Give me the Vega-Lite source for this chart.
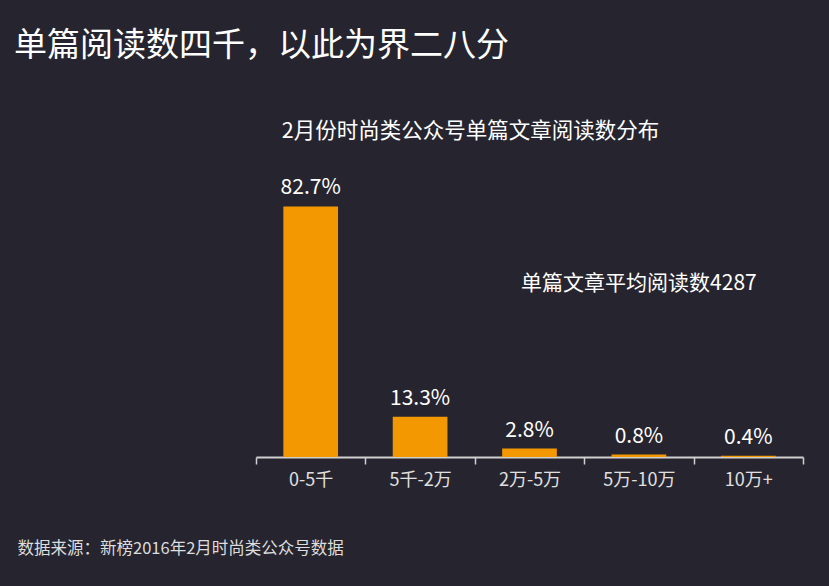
{
  "$schema": "https://vega.github.io/schema/vega-lite/v6.json",
  "autosize": {"type": "fit", "contains": "padding"},
  "width": 829,
  "height": 586,
  "padding": {"left": 14, "right": 25, "top": 30, "bottom": 29},
  "background": "#26252f",
  "title": {
    "text": "单篇阅读数四千，以此为界二八分",
    "anchor": "start",
    "frame": "bounds",
    "fontSize": 33,
    "fontWeight": "normal",
    "color": "#ffffff",
    "font": "Noto Sans CJK SC",
    "offset": 57,
    "dx": -3
  },
  "data": {
    "values": [
      {"range": "0-5千", "share": 0.827},
      {"range": "5千-2万", "share": 0.133},
      {"range": "2万-5万", "share": 0.028},
      {"range": "5万-10万", "share": 0.008},
      {"range": "10万+", "share": 0.004}
    ]
  },
  "encoding": {
    "x": {
      "field": "range",
      "type": "nominal",
      "sort": null,
      "scale": {"paddingInner": 0, "paddingOuter": 0},
      "axis": {
        "title": "数据来源：新榜2016年2月时尚类公众号数据",
        "titleX": -239,
        "titleY": 91,
        "titleAlign": "left",
        "titleAnchor": "start",
        "titleBaseline": "middle",
        "titleFontSize": 16.5,
        "titleFontWeight": "normal",
        "titleColor": "#dddddd",
        "titleFont": "Noto Sans CJK SC",
        "labelAngle": 0,
        "labelFontSize": 18,
        "labelColor": "#e0e0e0",
        "labelFont": "Noto Sans CJK SC",
        "labelBaseline": "middle",
        "labelPadding": 16,
        "tickBand": "extent",
        "tickSize": 7,
        "tickWidth": 1.5,
        "tickColor": "#d0d0d0",
        "domainColor": "#d0d0d0",
        "domainWidth": 2,
        "grid": false
      }
    },
    "y": {
      "field": "share",
      "type": "quantitative",
      "scale": {"domain": [0, 1], "nice": false},
      "axis": {
        "title": "2月份时尚类公众号单篇文章阅读数分布",
        "titleAngle": 0,
        "titleX": 214,
        "titleY": -23,
        "titleAlign": "center",
        "titleBaseline": "middle",
        "titleFontSize": 21.5,
        "titleFontWeight": "normal",
        "titleColor": "#ffffff",
        "titleFont": "Noto Sans CJK SC",
        "labels": false,
        "ticks": false,
        "domain": false,
        "grid": false
      }
    }
  },
  "layer": [
    {
      "mark": {"type": "bar", "color": "#f39800", "width": {"band": 0.5}}
    },
    {
      "mark": {
        "type": "text",
        "color": "#ffffff",
        "fontSize": 21,
        "font": "Noto Sans CJK SC",
        "baseline": "alphabetic",
        "dy": -12
      },
      "encoding": {
        "text": {"field": "share", "type": "quantitative", "format": ".1%"}
      }
    },
    {
      "data": {"values": [{"note": "单篇文章平均阅读数4287", "range": "5万-10万", "share": 0.57}]},
      "mark": {
        "type": "text",
        "color": "#ffffff",
        "fontSize": 21,
        "font": "Noto Sans CJK SC",
        "baseline": "middle"
      },
      "encoding": {
        "text": {"field": "note", "type": "nominal"}
      }
    }
  ],
  "config": {
    "view": {"stroke": null}
  }
}
